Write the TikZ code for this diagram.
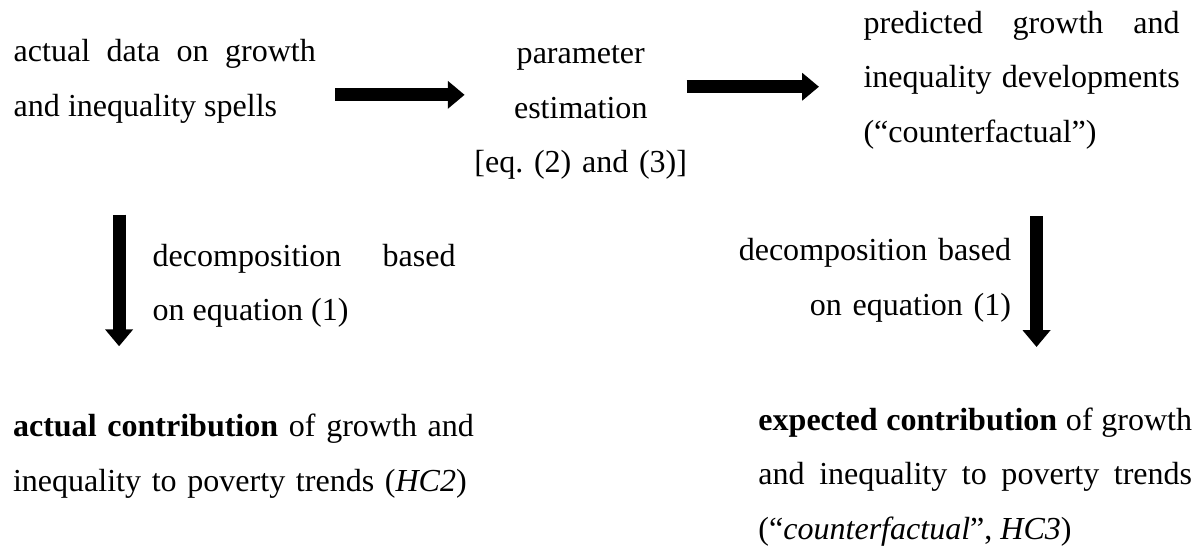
\documentclass[tikz,border=0pt]{standalone}
\usepackage{fontspec}
\setmainfont{Liberation Serif}
\usepackage{tikz}
\usetikzlibrary{arrows.meta,positioning}

\begin{document}
\begin{tikzpicture}[x=1cm,y=1cm,font=\fontsize{12.4}{21.2}\selectfont,>={Triangle[length=6.5pt,width=10.4pt]},
  txt/.style={inner sep=0pt,anchor=base west},
  fat/.style={->,line width=5pt}]
\useasboundingbox (0,0) rectangle (16.31,-7.44);
% top row
\node[txt,text width=4.11cm,align=justify] (data) at (0.18,-0.84) {actual data on growth\linebreak and inequality spells};
\node[txt,anchor=base,text width=3.5cm,align=center] (param) at (7.90,-0.86) {parameter\\ estimation\\ {[eq.\ (2) and (3)]}};
\node[txt,text width=4.30cm,align=justify] (pred) at (11.74,-0.45) {predicted growth and\linebreak inequality developments\linebreak (“counterfactual”)};
\coordinate (a1s) at (4.56,-1.29); \coordinate (a1e) at (6.32,-1.29);
\coordinate (a2s) at (9.34,-1.18); \coordinate (a2e) at (11.14,-1.18);
\draw[fat] (a1s) -- (a1e);
\draw[fat] (a2s) -- (a2e);
% decomposition steps
\coordinate (dLs) at (1.62,-2.92); \coordinate (dLe) at (1.62,-4.71);
\coordinate (dRs) at (14.10,-2.94); \coordinate (dRe) at (14.10,-4.72);
\draw[fat] (dLs) -- (dLe);
\draw[fat] (dRs) -- (dRe);
\node[txt,text width=4.12cm,align=justify] (decL) at (2.07,-3.62) {decomposition based\linebreak on equation (1)};
\node[txt,anchor=base east,text width=4.5cm,align=right] (decR) at (13.76,-3.55) {decomposition based\\ on equation (1)};
% results
\node[txt,text width=7cm,align=left] (actL) at (0.17,-5.94) {\textbf{actual contribution} of growth and\\ inequality to poverty trends (\textit{HC2})};
\node[txt,text width=5.9cm,align=justify] (expR) at (10.31,-5.85) {\textbf{expected contribution} of growth\linebreak and inequality to poverty trends\linebreak (“\textit{counterfactual}”, \textit{HC3})};
\end{tikzpicture}
\end{document}
